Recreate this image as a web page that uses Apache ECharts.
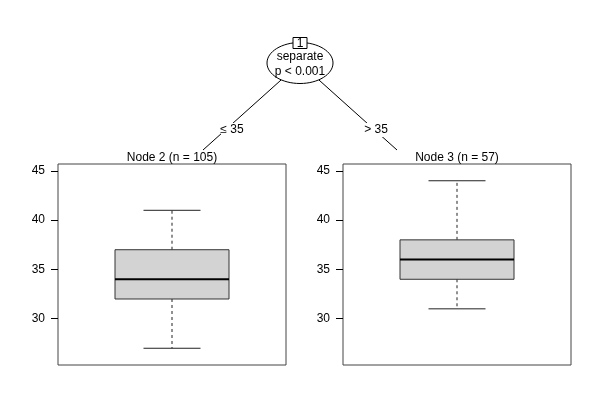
<!DOCTYPE html>
<html>
<head>
<meta charset="utf-8">
<script src="https://cdn.jsdelivr.net/npm/echarts@6/dist/echarts.min.js"></script>
<style>html,body{margin:0;padding:0;background:#fff}#c{width:600px;height:400px}</style>
</head>
<body>
<div id="c"></div>
<script>
// ---- data ----
const nodeTitles = ['Node 2 (n = 105)', 'Node 3 (n = 57)'];
const whiskerLow = [27, 31];
const q1 = [32, 34];
const median = [34, 36];
const q3 = [37, 38];
const whiskerHigh = [41, 44];
const yTicks = [30, 35, 40, 45];
const splitVar = 'separate';
const splitP = 'p < 0.001';
const splitLabels = ['\u2264 35', '> 35'];
const innerNodeId = '1';

const FONT = '"Liberation Sans", Arial, Helvetica, sans-serif';
const chart = echarts.init(document.getElementById('c'), null, {renderer: 'canvas'});

const panels = [
  {left: 58, top: 164, width: 228, height: 201, cx: 172},
  {left: 343, top: 164, width: 228, height: 201, cx: 457}
];

function renderBox(params, api) {
  const x = api.value(0);
  const lo = api.value(1), a = api.value(2), m = api.value(3), b = api.value(4), hi = api.value(5);
  const bw = 0.25, cw = 0.125;
  const pLo = api.coord([x, lo]), pA = api.coord([x, a]), pM = api.coord([x, m]);
  const pB = api.coord([x, b]), pHi = api.coord([x, hi]);
  const bl = api.coord([x - bw, b]), br = api.coord([x + bw, a]);
  const cl = api.coord([x - cw, lo])[0], cr = api.coord([x + cw, lo])[0];
  const dash = {stroke: '#222', lineWidth: 1, lineDash: [3, 3]};
  const solid = {stroke: '#222', lineWidth: 1};
  return {
    type: 'group',
    children: [
      {type: 'line', shape: {x1: pB[0], y1: pB[1], x2: pHi[0], y2: pHi[1]}, style: dash},
      {type: 'line', shape: {x1: pA[0], y1: pA[1], x2: pLo[0], y2: pLo[1]}, style: dash},
      {type: 'line', shape: {x1: cl, y1: pHi[1], x2: cr, y2: pHi[1]}, style: solid},
      {type: 'line', shape: {x1: cl, y1: pLo[1], x2: cr, y2: pLo[1]}, style: solid},
      {type: 'rect', shape: {x: bl[0], y: bl[1], width: br[0] - bl[0], height: br[1] - bl[1]},
        style: {fill: '#d3d3d3', stroke: '#333', lineWidth: 1}},
      {type: 'line', shape: {x1: bl[0], y1: pM[1], x2: br[0], y2: pM[1]}, style: {stroke: '#000', lineWidth: 2}}
    ]
  };
}

const grids = [], xAxes = [], yAxes = [], series = [];
panels.forEach((p, i) => {
  grids.push({left: p.left, top: p.top, width: p.width, height: p.height, show: true,
    borderColor: '#444', borderWidth: 1, backgroundColor: 'transparent'});
  xAxes.push({type: 'value', gridIndex: i, min: 0, max: 1, show: false});
  yAxes.push({type: 'value', gridIndex: i, min: 25.3, max: 45.7,
    axisLine: {show: false},
    splitLine: {show: false},
    axisTick: {show: true, length: 7, customValues: yTicks, lineStyle: {color: '#000'}},
    axisLabel: {show: true, customValues: yTicks, margin: 13, color: '#000', fontSize: 12, fontFamily: FONT}
  });
  series.push({
    type: 'custom', xAxisIndex: i, yAxisIndex: i, renderItem: renderBox,
    encode: {x: 0, y: [1, 2, 3, 4, 5]},
    data: [[0.5, whiskerLow[i], q1[i], median[i], q3[i], whiskerHigh[i]]],
    silent: true, clip: false
  });
});

const txt = (x, y, s, size) => ({type: 'text', x: x, y: y, z: 20,
  style: {text: s, fill: '#000', font: (size || 12) + 'px ' + FONT, align: 'center', verticalAlign: 'middle'}});

const graphic = [
  {type: 'line', z: 10, shape: {x1: 300, y1: 63, x2: 203, y2: 150}, style: {stroke: '#000', lineWidth: 1}},
  {type: 'line', z: 10, shape: {x1: 300, y1: 63, x2: 397, y2: 150}, style: {stroke: '#000', lineWidth: 1}},
  {type: 'ellipse', z: 11, shape: {cx: 300, cy: 63, rx: 33, ry: 20.5}, style: {fill: '#fff', stroke: '#000', lineWidth: 1}},
  {type: 'rect', z: 12, shape: {x: 293, y: 37.5, width: 14, height: 11}, style: {fill: '#fff', stroke: '#000', lineWidth: 1}},
  txt(300, 43.5, innerNodeId, 12),
  txt(300, 57, splitVar, 12),
  txt(300, 72, splitP, 12),
  {type: 'rect', z: 15, shape: {x: 221, y: 123, width: 23, height: 14}, style: {fill: '#fff'}},
  {type: 'rect', z: 15, shape: {x: 364, y: 123, width: 24, height: 14}, style: {fill: '#fff'}},
  txt(232, 130, splitLabels[0], 12),
  txt(376, 130, splitLabels[1], 12),
  txt(panels[0].cx, 158, nodeTitles[0], 12),
  txt(panels[1].cx, 158, nodeTitles[1], 12)
];

chart.setOption({
  animation: false,
  backgroundColor: '#fff',
  grid: grids,
  xAxis: xAxes,
  yAxis: yAxes,
  series: series,
  graphic: graphic
});
</script>
</body>
</html>
